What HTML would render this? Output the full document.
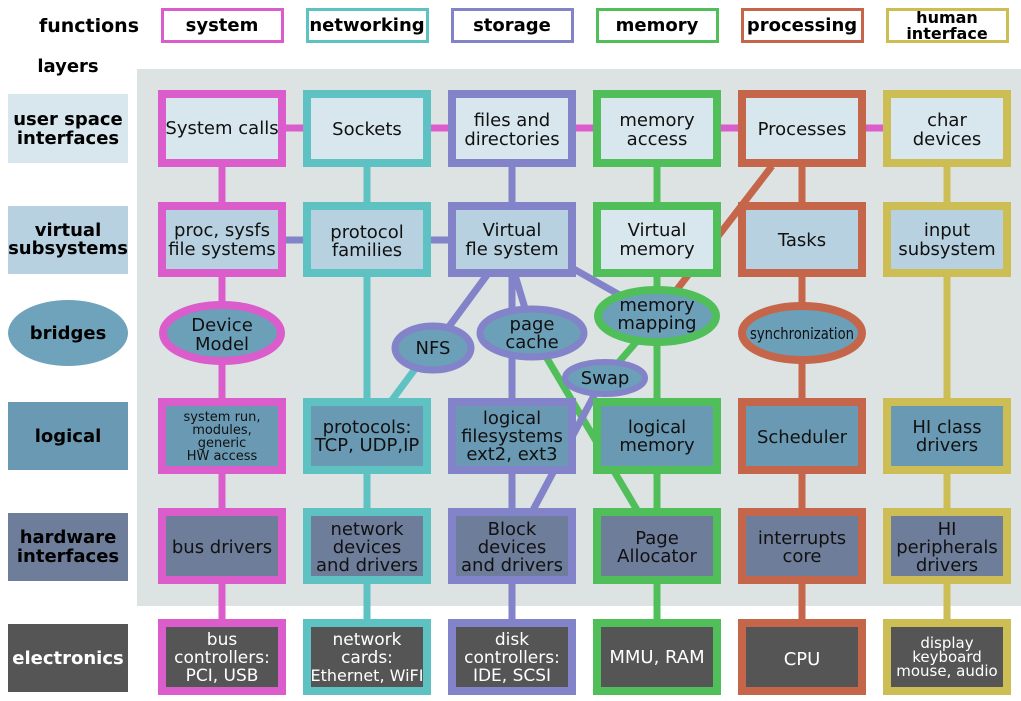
<!DOCTYPE html>
<html><head><meta charset="utf-8"><style>
html,body{margin:0;padding:0;background:#fff;width:1021px;height:701px;overflow:hidden}
svg{display:block}
text{font-family:"DejaVu Sans","Liberation Sans",sans-serif;text-anchor:middle;fill:#111}
.b{font-weight:bold;fill:#000}
.w{fill:#fff}
</style></head><body>
<svg width="1021" height="701" viewBox="0 0 1021 701" xmlns="http://www.w3.org/2000/svg">
<text x="89" y="32" class="b" font-size="19">functions</text>
<text x="68" y="72" class="b" font-size="18">layers</text>
<g fill="#fff" stroke-width="3">
<rect x="162.5" y="9.5" width="120" height="32" stroke="#db5ccb"/>
<rect x="307.5" y="9.5" width="120" height="32" stroke="#5fc2c2"/>
<rect x="452.5" y="9.5" width="120" height="32" stroke="#8383c9"/>
<rect x="597.5" y="9.5" width="120" height="32" stroke="#50bf5a"/>
<rect x="742.5" y="9.5" width="120" height="32" stroke="#c5664a"/>
<rect x="887.5" y="9.5" width="120" height="32" stroke="#cdbd55"/>
</g>
<g font-size="18">
<text x="222" y="31" class="b">system</text>
<text x="367" y="31" class="b">networking</text>
<text x="512" y="31" class="b">storage</text>
<text x="657" y="31" class="b">memory</text>
<text x="802" y="31" class="b">processing</text>
<text x="947" y="23" class="b" font-size="16">human</text>
<text x="947" y="39" class="b" font-size="16">interface</text>
</g>
<rect x="137" y="69" width="884" height="537" fill="#dde3e3"/>
<rect x="8" y="94" width="120" height="69" fill="#d8e6ee"/>
<rect x="8" y="206" width="120" height="68" fill="#b8d1e0"/>
<ellipse cx="68" cy="333" rx="60" ry="33" fill="#6fa3bb"/>
<rect x="8" y="402" width="120" height="68" fill="#6a9ab3"/>
<rect x="8" y="513" width="120" height="68" fill="#6e7d9a"/>
<rect x="8" y="624" width="120" height="68" fill="#555"/>
<g font-size="18">
<text x="68" y="125" class="b">user space</text>
<text x="68" y="144" class="b">interfaces</text>
<text x="68" y="236" class="b">virtual</text>
<text x="68" y="254" class="b">subsystems</text>
<text x="68" y="339" class="b">bridges</text>
<text x="68" y="442" class="b">logical</text>
<text x="68" y="543" class="b">hardware</text>
<text x="68" y="562" class="b">interfaces</text>
<text x="68" y="664" class="b w">electronics</text>
</g>
<g stroke-width="7">
<line x1="222" y1="166" x2="222" y2="620" stroke="#db5ccb"/>
<line x1="367" y1="166" x2="367" y2="620" stroke="#5fc2c2"/>
<line x1="512" y1="166" x2="512" y2="620" stroke="#8383c9"/>
<line x1="657" y1="166" x2="657" y2="620" stroke="#50bf5a"/>
<line x1="802" y1="166" x2="802" y2="620" stroke="#c5664a"/>
<line x1="947" y1="166" x2="947" y2="620" stroke="#cdbd55"/>
<line x1="285" y1="128" x2="884" y2="128" stroke="#db5ccb"/>
<line x1="285" y1="240" x2="450" y2="240" stroke="#8383c9"/>
<line x1="772" y1="166" x2="672" y2="296" stroke="#c5664a"/>
<line x1="487" y1="275" x2="445" y2="332" stroke="#8383c9"/>
<line x1="515" y1="275" x2="527" y2="315" stroke="#8383c9"/>
<line x1="572" y1="268" x2="625" y2="298" stroke="#8383c9"/>
<line x1="418" y1="365" x2="392" y2="400" stroke="#5fc2c2"/>
<line x1="545" y1="355" x2="640" y2="515" stroke="#50bf5a"/>
<line x1="638" y1="340" x2="612" y2="370" stroke="#50bf5a"/>
<line x1="597" y1="390" x2="532" y2="512" stroke="#8383c9"/>
</g>
<g stroke-width="8">
<g fill="#d8e6ee">
<rect x="162" y="94" width="120" height="69" stroke="#db5ccb"/>
<rect x="307" y="94" width="120" height="69" stroke="#5fc2c2"/>
<rect x="452" y="94" width="120" height="69" stroke="#8383c9"/>
<rect x="597" y="94" width="120" height="69" stroke="#50bf5a"/>
<rect x="742" y="94" width="120" height="69" stroke="#c5664a"/>
<rect x="887" y="94" width="120" height="69" stroke="#cdbd55"/>
</g>
<g fill="#b8d1e0">
<rect x="162" y="206" width="120" height="67" stroke="#db5ccb"/>
<rect x="307" y="206" width="120" height="67" stroke="#5fc2c2"/>
<rect x="452" y="206" width="120" height="67" stroke="#8383c9"/>
<rect x="597" y="206" width="120" height="67" stroke="#50bf5a" fill="#d8e6ee"/>
<rect x="742" y="206" width="120" height="67" stroke="#c5664a"/>
<rect x="887" y="206" width="120" height="67" stroke="#cdbd55"/>
</g>
<g fill="#6a9ab3">
<rect x="162" y="402" width="120" height="68" stroke="#db5ccb"/>
<rect x="307" y="402" width="120" height="68" stroke="#5fc2c2"/>
<rect x="452" y="402" width="120" height="68" stroke="#8383c9"/>
<rect x="597" y="402" width="120" height="68" stroke="#50bf5a"/>
<rect x="742" y="402" width="120" height="68" stroke="#c5664a"/>
<rect x="887" y="402" width="120" height="68" stroke="#cdbd55"/>
</g>
<g fill="#6e7d9a">
<rect x="162" y="512" width="120" height="68" stroke="#db5ccb"/>
<rect x="307" y="512" width="120" height="68" stroke="#5fc2c2"/>
<rect x="452" y="512" width="120" height="68" stroke="#8383c9"/>
<rect x="597" y="512" width="120" height="68" stroke="#50bf5a"/>
<rect x="742" y="512" width="120" height="68" stroke="#c5664a"/>
<rect x="887" y="512" width="120" height="68" stroke="#cdbd55"/>
</g>
<g fill="#555">
<rect x="162" y="623" width="120" height="68" stroke="#db5ccb"/>
<rect x="307" y="623" width="120" height="68" stroke="#5fc2c2"/>
<rect x="452" y="623" width="120" height="68" stroke="#8383c9"/>
<rect x="597" y="623" width="120" height="68" stroke="#50bf5a"/>
<rect x="742" y="623" width="120" height="68" stroke="#c5664a"/>
<rect x="887" y="623" width="120" height="68" stroke="#cdbd55"/>
</g>
</g>
<g fill="#6c9fb8">
<ellipse cx="222" cy="333" rx="59" ry="28" stroke="#db5ccb" stroke-width="8"/>
<ellipse cx="433" cy="348" rx="38" ry="22" stroke="#8383c9" stroke-width="7"/>
<ellipse cx="532" cy="333" rx="52" ry="24" stroke="#8383c9" stroke-width="7"/>
<ellipse cx="657" cy="316" rx="59" ry="26" stroke="#50bf5a" stroke-width="8"/>
<ellipse cx="605" cy="378" rx="40" ry="16" stroke="#8383c9" stroke-width="6"/>
<ellipse cx="802" cy="333" rx="60" ry="27" stroke="#c5664a" stroke-width="8"/>
</g>
<g font-size="18">
<text x="222" y="134">System calls</text>
<text x="367" y="135">Sockets</text>
<text x="512" y="126">files and</text><text x="512" y="145">directories</text>
<text x="657" y="126">memory</text><text x="657" y="145">access</text>
<text x="802" y="135">Processes</text>
<text x="947" y="126">char</text><text x="947" y="145">devices</text>
<text x="222" y="236">proc, sysfs</text><text x="222" y="255">file systems</text>
<text x="367" y="238">protocol</text><text x="367" y="256">families</text>
<text x="512" y="236">Virtual</text><text x="512" y="255">fle system</text>
<text x="657" y="236">Virtual</text><text x="657" y="255">memory</text>
<text x="802" y="246">Tasks</text>
<text x="947" y="236">input</text><text x="947" y="255">subsystem</text>
<text x="222" y="331">Device</text><text x="222" y="350">Model</text>
<text x="433" y="354">NFS</text>
<text x="532" y="330">page</text><text x="532" y="348">cache</text>
<text x="657" y="311">memory</text><text x="657" y="329">mapping</text>
<text x="605" y="384">Swap</text>
<text x="802" y="339" font-size="16" textLength="104" lengthAdjust="spacingAndGlyphs">synchronization</text>
<text x="222" y="421" font-size="13">system run,</text><text x="222" y="434" font-size="13">modules,</text><text x="222" y="447" font-size="13">generic</text><text x="222" y="460" font-size="13">HW access</text>
<text x="367" y="433">protocols:</text><text x="367" y="451">TCP, UDP,IP</text>
<text x="512" y="424">logical</text><text x="512" y="442">filesystems</text><text x="512" y="460">ext2, ext3</text>
<text x="657" y="433">logical</text><text x="657" y="451">memory</text>
<text x="802" y="443">Scheduler</text>
<text x="947" y="433">HI class</text><text x="947" y="451">drivers</text>
<text x="222" y="553">bus drivers</text>
<text x="367" y="535">network</text><text x="367" y="553">devices</text><text x="367" y="571">and drivers</text>
<text x="512" y="535">Block</text><text x="512" y="553">devices</text><text x="512" y="571">and drivers</text>
<text x="657" y="544">Page</text><text x="657" y="562">Allocator</text>
<text x="802" y="544">interrupts</text><text x="802" y="562">core</text>
<text x="947" y="535">HI</text><text x="947" y="553">peripherals</text><text x="947" y="571">drivers</text>
</g>
<g font-size="17">
<text x="222" y="645" class="w">bus</text><text x="222" y="663" class="w">controllers:</text><text x="222" y="681" class="w">PCI, USB</text>
<text x="367" y="645" class="w">network</text><text x="367" y="663" class="w">cards:</text><text x="367" y="681" class="w" font-size="16">Ethernet, WiFI</text>
<text x="512" y="645" class="w">disk</text><text x="512" y="663" class="w">controllers:</text><text x="512" y="681" class="w">IDE, SCSI</text>
<text x="657" y="663" class="w" font-size="18">MMU, RAM</text>
<text x="802" y="665" class="w" font-size="18">CPU</text>
<text x="947" y="648" class="w" font-size="15">display</text><text x="947" y="662" class="w" font-size="15">keyboard</text><text x="947" y="676" class="w" font-size="15">mouse, audio</text>
</g>
</svg>
</body></html>
